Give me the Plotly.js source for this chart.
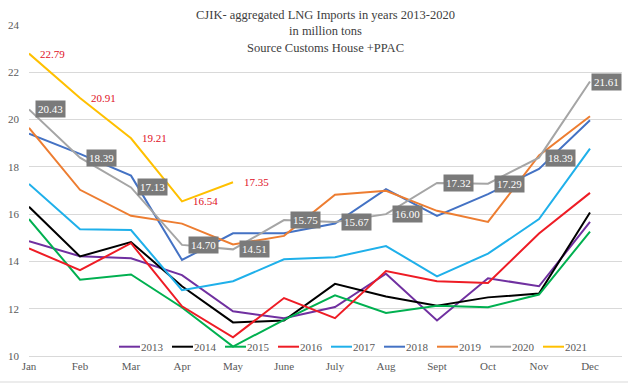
<!DOCTYPE html>
<html>
<head>
<meta charset="utf-8">
<script src="https://cdn.plot.ly/plotly-3.0.1.min.js"></script>
<style>html,body{margin:0;padding:0;background:#fff;}#chart{width:628px;height:384px;}</style>
</head>
<body>
<div id="chart"></div>
<script>
var months = ['Jan','Feb','Mar','Apr','May','June','July','Aug','Sept','Oct','Nov','Dec'];
var years = ['2013','2014','2015','2016','2017','2018','2019','2020','2021'];
var y2013 = [14.86,14.22,14.13,13.42,11.89,11.60,12.07,13.48,11.50,13.29,12.95,15.67];
var y2014 = [16.31,14.21,14.82,12.95,11.42,11.50,13.05,12.52,12.13,12.48,12.64,16.07];
var y2015 = [15.79,13.23,13.45,12.05,10.40,11.53,12.57,11.82,12.13,12.06,12.60,15.26];
var y2016 = [14.55,13.63,14.77,12.10,10.79,12.45,11.60,13.59,13.16,13.09,15.18,16.90];
var y2017 = [17.28,15.36,15.33,12.78,13.16,14.09,14.18,14.65,13.37,14.33,15.79,18.77];
var y2018 = [19.40,18.55,17.63,14.06,15.19,15.19,15.60,17.06,15.93,16.85,17.91,19.97];
var y2019 = [19.65,17.03,15.93,15.60,14.72,15.08,16.82,16.99,16.14,15.67,18.48,20.14];
var y2020 = [20.43,18.39,17.13,14.70,14.51,15.75,15.67,16.00,17.32,17.29,18.39,21.61];
var y2021 = [22.79,20.91,19.21,16.54,17.35];

var series = [y2013,y2014,y2015,y2016,y2017,y2018,y2019,y2020,y2021];
var colors = ['#7030a0','#000000','#00b050','#ee1c25','#1fb0ea','#4472c4','#ed7d31','#a5a5a5','#ffc000'];

var FONT = 'Liberation Serif';
var W = 628, H = 384;
var M = {l: 29, r: 6, t: 25, b: 28};
var PW = W - M.l - M.r, PH = H - M.t - M.b;
function px2paperX(px){ return (px - M.l) / PW; }
function px2paperY(py){ return (H - M.b - py) / PH; }

var traces = series.map(function(vals, i){
  return {
    type: 'scatter', mode: 'lines',
    name: years[i],
    x: months.slice(0, vals.length),
    y: vals,
    line: {color: colors[i], width: 2},
    showlegend: false
  };
});

var annotations = [];
y2020.forEach(function(v, i){
  annotations.push({
    x: months[i], y: v, xref: 'x', yref: 'y',
    text: v.toFixed(2), showarrow: false,
    xanchor: 'left', yanchor: 'middle',
    xshift: (i === y2020.length - 1) ? 1 : 6,
    bgcolor: '#7a7a7a', borderpad: 2,
    font: {family: FONT, size: 11, color: '#ffffff'}
  });
});
y2021.forEach(function(v, i){
  annotations.push({
    x: months[i], y: v, xref: 'x', yref: 'y',
    text: v.toFixed(2), showarrow: false,
    xanchor: 'left', yanchor: 'middle',
    xshift: 9,
    font: {family: FONT, size: 11, color: '#e0101e'}
  });
});

// custom legend (one row, short line samples)
var shapes = [];
var legY = px2paperY(346.7);
years.forEach(function(yr, i){
  var x0 = 119 + 53 * i;
  shapes.push({
    type: 'line', xref: 'paper', yref: 'paper',
    x0: px2paperX(x0), x1: px2paperX(x0 + 21), y0: legY, y1: legY,
    line: {color: colors[i], width: 2}
  });
  annotations.push({
    xref: 'paper', yref: 'paper', x: px2paperX(x0 + 21), y: legY,
    text: yr, showarrow: false, xanchor: 'left', yanchor: 'middle',
    font: {family: FONT, size: 11, color: '#595959'}, borderpad: 0
  });
});
shapes.push({
  type: 'line', xref: 'paper', yref: 'paper',
  x0: px2paperX(0), x1: px2paperX(W), y0: px2paperY(382), y1: px2paperY(382),
  line: {color: '#d9d9d9', width: 1}
});

var layout = {
  width: W, height: H,
  margin: M,
  paper_bgcolor: '#ffffff', plot_bgcolor: '#ffffff',
  font: {family: FONT, size: 11, color: '#595959'},
  title: {
    text: 'CJIK- aggregated LNG Imports in years 2013-2020<br>in million tons<br>Source Customs House +PPAC',
    font: {family: FONT, size: 12.5, color: '#404040'},
    x: 0.5, xref: 'paper', xanchor: 'center',
    y: 0.95, yref: 'container', yanchor: 'top'
  },
  xaxis: {
    type: 'category', showgrid: false, showline: true, linecolor: '#d9d9d9', linewidth: 1,
    ticks: '', tickfont: {family: FONT, size: 11, color: '#595959'}, fixedrange: true
  },
  yaxis: {
    range: [10, 24], dtick: 2, showgrid: true, gridcolor: '#d9d9d9', gridwidth: 1,
    zeroline: false, showline: false, ticks: '', ticklabelstandoff: 9,
    tickfont: {family: FONT, size: 11, color: '#595959'}, fixedrange: true
  },
  showlegend: false,
  annotations: annotations,
  shapes: shapes
};

Plotly.newPlot('chart', traces, layout, {displayModeBar: false, staticPlot: true});
</script>
</body>
</html>
